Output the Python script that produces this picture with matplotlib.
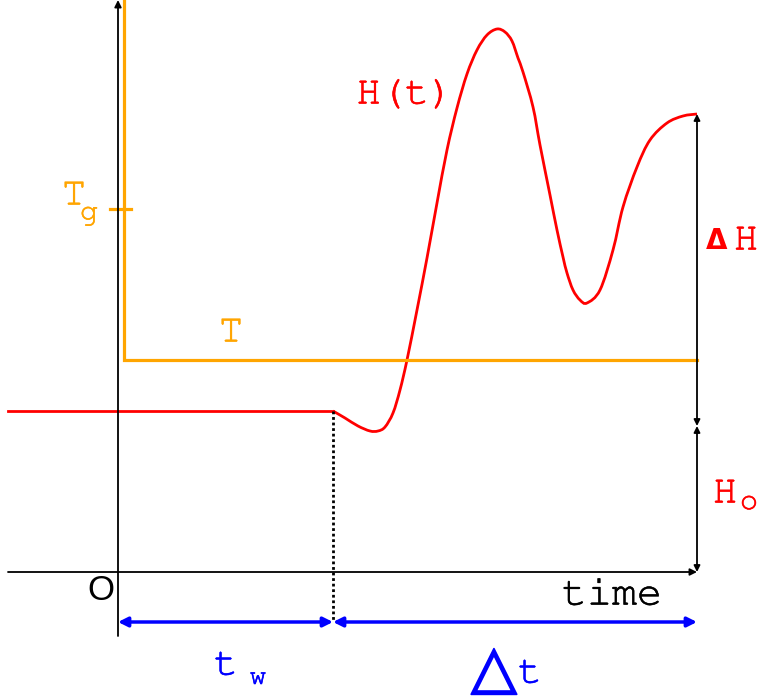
import matplotlib
matplotlib.use("Agg")
import matplotlib.pyplot as plt
import matplotlib.patheffects as pe
from matplotlib.path import Path
from matplotlib.patches import PathPatch

# schematic in pixel-like units (y grows downward)
origin_x = 118
axis_y = 572
tw_x = 333
end_x = 697

# T(t): quench from above Tg down to T
temp_x = [124, 124, end_x]
temp_y = [0, 360, 360]
tg_y = 209

# H(t): flat H0 until tw, then dip, overshoot and relax
h0_x = [8, tw_x]
h0_y = [411, 411]
h_x = [333, 345, 358, 370, 378, 385, 393, 400, 407, 417, 427, 437, 447, 457, 467,
       477, 487, 497, 505, 512, 518, 523, 533, 540, 550, 557, 563, 567, 573, 580,
       587, 600, 613, 623, 637, 650, 667, 683, 697]
h_y = [411, 418, 426, 431, 431, 427, 413, 390, 360, 310, 258, 203, 150, 108, 74,
       50, 35, 29, 32, 41, 58, 72, 107, 145, 195, 230, 257, 273, 290, 300,
       303, 290, 250, 207, 167, 140, 123, 116, 114]
dh_top = 114
dh_bottom = 426

red = "#ff0000"
orange = "#ffa500"
blue = "#0000ff"
mono = ["FreeMono", "Courier Prime", "DejaVu Sans Mono"]


def smooth_path(xs, ys):
    # catmull-rom through the points, drawn as cubic bezier segments
    pts = list(zip(xs, ys))
    verts = [pts[0]]
    codes = [Path.MOVETO]
    for i in range(len(pts) - 1):
        p0 = pts[i - 1] if i > 0 else pts[i]
        p1 = pts[i]
        p2 = pts[i + 1]
        p3 = pts[i + 2] if i + 2 < len(pts) else pts[i + 1]
        c1 = (p1[0] + (p2[0] - p0[0]) / 6, p1[1] + (p2[1] - p0[1]) / 6)
        c2 = (p2[0] - (p3[0] - p1[0]) / 6, p2[1] - (p3[1] - p1[1]) / 6)
        verts += [c1, c2, p2]
        codes += [Path.CURVE4] * 3
    return Path(verts, codes)


def label(x, y, s, color, size, family=mono, bold=0.4, **kw):
    t = ax.text(x, y, s, color=color, family=family, fontsize=size,
                ha="center", va=kw.pop("va", "center"), **kw)
    if bold:
        t.set_path_effects([pe.withStroke(linewidth=bold, foreground=color)])
    return t


fig = plt.figure(figsize=(7.61, 7.0), dpi=100)
ax = fig.add_axes([0, 0, 1, 1])
ax.set_xlim(0, 761)
ax.set_ylim(700, 0)
ax.axis("off")

# axes
ax.annotate("", xy=(end_x, axis_y), xytext=(8, axis_y),
            arrowprops=dict(arrowstyle="-|>", color="black", lw=1.3,
                            mutation_scale=10, shrinkA=0, shrinkB=0))
ax.annotate("", xy=(origin_x, 0), xytext=(origin_x, 636),
            arrowprops=dict(arrowstyle="-|>", color="black", lw=1.3,
                            mutation_scale=10, shrinkA=0, shrinkB=0))

# temperature
ax.plot(temp_x, temp_y, color=orange, lw=2.3, solid_joinstyle="miter")
ax.plot([110, 131], [tg_y, tg_y], color=orange, lw=2.3)

# enthalpy
ax.plot(h0_x, h0_y, color=red, lw=2.0)
ax.add_patch(PathPatch(smooth_path(h_x, h_y), facecolor="none", edgecolor=red, lw=2.0))

# tw marker
ax.plot([tw_x, tw_x], [411, 622], color="black", lw=2.0, ls=(0, (1, 1)))

# vertical measure arrows
ax.annotate("", xy=(end_x, dh_top), xytext=(end_x, dh_bottom),
            arrowprops=dict(arrowstyle="<|-|>", color="black", lw=1.3,
                            mutation_scale=9, shrinkA=0, shrinkB=0))
ax.annotate("", xy=(end_x, dh_bottom), xytext=(end_x, axis_y),
            arrowprops=dict(arrowstyle="<|-|>", color="black", lw=1.3,
                            mutation_scale=9, shrinkA=0, shrinkB=0))

# time intervals
ax.annotate("", xy=(origin_x, 622), xytext=(tw_x, 622),
            arrowprops=dict(arrowstyle="<|-|>", color=blue, lw=2.5,
                            mutation_scale=14, shrinkA=0, shrinkB=0))
ax.annotate("", xy=(tw_x, 622), xytext=(end_x, 622),
            arrowprops=dict(arrowstyle="<|-|>", color=blue, lw=2.5,
                            mutation_scale=14, shrinkA=0, shrinkB=0))

# labels
label(405, 95, "H(t)", red, 29)
label(231, 333, "T", orange, 29)
label(74, 196, "T", orange, 29)
label(89, 214, "g", orange, 22)
label(717, 241, "\u0394", red, 20, family="DejaVu Sans", bold=0, fontweight="bold")
label(746, 241, "H", red, 29)
label(725, 494, "H", red, 29)
label(749, 503, "o", red, 22)
label(101, 590, "O", "black", 25, family="Liberation Sans", bold=0)
label(612, 596, "time", "black", 30)
label(226, 666, "t", blue, 29)
label(258, 678, "w", blue, 20)
label(494, 687, "\u25b3", blue, 43, family="DejaVu Sans", bold=1.2, va="baseline")
label(530, 674, "t", blue, 29)

fig.savefig("out.png", dpi=100)
